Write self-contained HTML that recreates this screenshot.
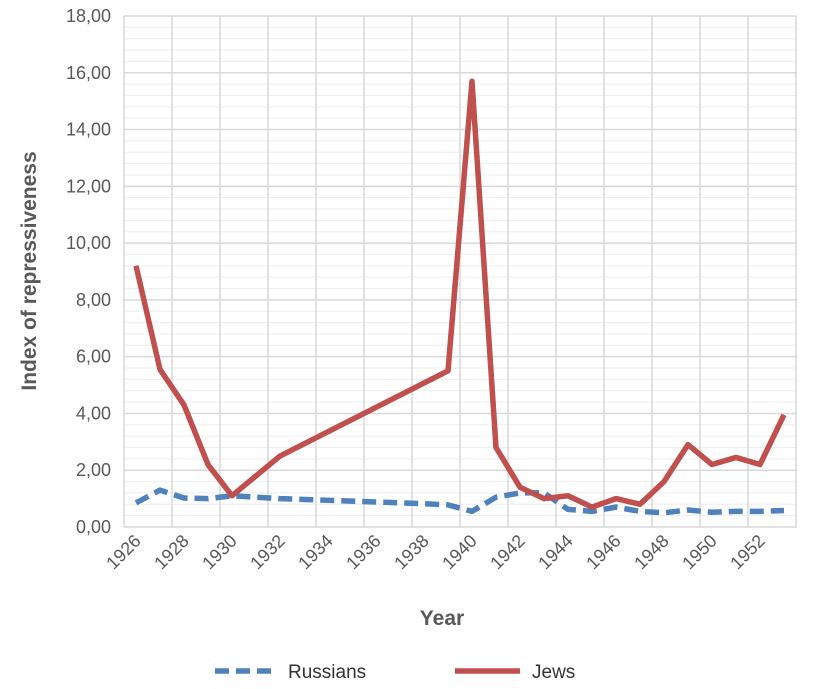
<!DOCTYPE html><html><head><style>body{margin:0;background:#fff}</style></head><body>
<svg width="816" height="684" xmlns="http://www.w3.org/2000/svg" font-family="Liberation Sans, sans-serif">
<g id="minor" stroke="#eeeeee" stroke-width="1"></g>
<g id="major" stroke="#d9d9d9" stroke-width="1.5"></g>
<g id="ylab" font-size="18" fill="#595959" text-anchor="end"></g>
<g id="xlab" font-size="18" fill="#595959" text-anchor="end"></g>
<polyline id="ru" fill="none" stroke="#4f81bd" stroke-width="5.5" stroke-dasharray="14,7" stroke-linejoin="round"/>
<polyline id="je" fill="none" stroke="#c0504d" stroke-width="5.5" stroke-linejoin="round"/>
<text x="442" y="625" font-size="21" font-weight="bold" fill="#595959" text-anchor="middle">Year</text>
<text transform="translate(36,271) rotate(-90)" font-size="21" font-weight="bold" fill="#595959" text-anchor="middle">Index of repressiveness</text>
<line x1="215" y1="671" x2="275" y2="671" stroke="#4f81bd" stroke-width="5.5" stroke-dasharray="14,7"/>
<text x="288" y="678" font-size="19" fill="#333">Russians</text>
<line x1="455" y1="671" x2="520" y2="671" stroke="#c0504d" stroke-width="5.5"/>
<text x="532" y="678" font-size="19" fill="#333">Jews</text>
</svg>
<script>
const ns="http://www.w3.org/2000/svg";
function el(p,t,a,tx){const e=document.createElementNS(ns,t);for(const k in a)e.setAttribute(k,a[k]);if(tx)e.textContent=tx;document.getElementById(p).appendChild(e);}
const Y=v=>527-v*28.39;
for(let v=0;v<=18.01;v+=0.4){el('minor','line',{x1:124,x2:797,y1:Y(v),y2:Y(v)});}
for(let v=0;v<=18;v+=2){el('major','line',{x1:124,x2:797,y1:Y(v),y2:Y(v)});el('ylab','text',{x:111,y:Y(v)+6},v.toFixed(2).replace('.',','));}
for(let k=0;k<=14;k++){el('major','line',{x1:124+48*k,x2:124+48*k,y1:16,y2:527});}
for(let k=0;k<14;k++){const x=142+48*k,y=542;el('xlab','text',{x:x,y:y,transform:`rotate(-45 ${x} ${y})`},String(1926+2*k));}
const je=[9.2,5.55,4.3,2.2,1.1,null,2.5,null,null,null,null,null,null,5.5,15.7,2.8,1.4,1.0,1.1,0.7,1.0,0.8,1.6,2.9,2.2,2.45,2.2,3.95];
const ru=[0.85,1.3,1.02,1.0,1.1,1.05,1.0,0.97,0.94,0.91,0.88,0.85,0.82,0.78,0.55,1.05,1.2,1.2,0.62,0.55,0.7,0.55,0.5,0.6,0.52,0.55,0.55,0.58];
document.getElementById('je').setAttribute('points',je.map((v,i)=>v==null?'':(136+24*i)+','+Y(v)).filter(s=>s).join(' '));
document.getElementById('ru').setAttribute('points',ru.map((v,i)=>(136+24*i)+','+Y(v)).join(' '));
</script>
</body></html>
